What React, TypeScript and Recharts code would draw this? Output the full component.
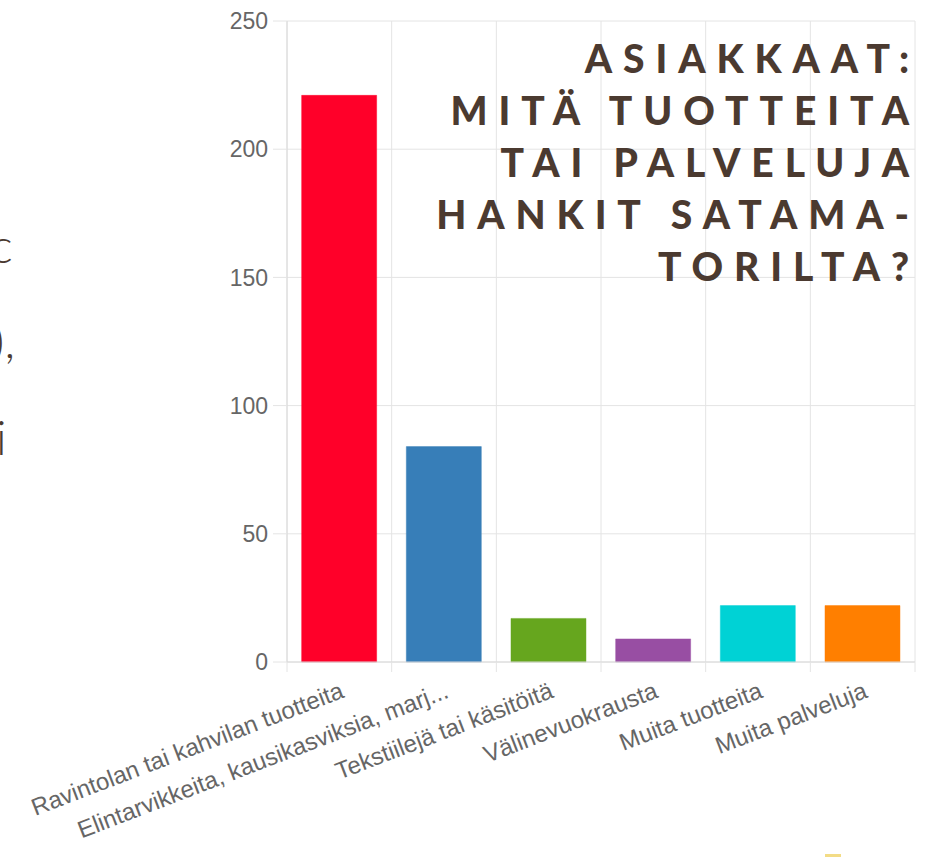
import { BarChart, Bar, XAxis, YAxis, CartesianGrid, Cell } from "recharts";

const CATEGORIES = [
  "Ravintolan tai kahvilan tuotteita",
  "Elintarvikkeita, kausikasviksia, marj...",
  "Tekstiilejä tai käsitöitä",
  "Välinevuokrausta",
  "Muita tuotteita",
  "Muita palveluja",
];
const VALUES = [221, 84, 17, 9, 22, 22];
const BAR_COLORS = ["#ff0029", "#377eb8", "#66a61e", "#984ea3", "#00d2d5", "#ff7f00"];
const Y_TICKS = [0, 50, 100, 150, 200, 250];
const TITLE_LINES = ["ASIAKKAAT:", "MITÄ TUOTTEITA", "TAI PALVELUJA", "HANKIT SATAMA-", "TORILTA?"];

const data = CATEGORIES.map((name, i) => ({ name, value: VALUES[i] }));

const GRID = "#e4e4e4";
const INK = "#4b3a30";

const XTick = (props: any) => {
  const { x, y, payload, width, visibleTicksCount, index } = props;
  const band = width / (visibleTicksCount || CATEGORIES.length);
  const left = x - band / 2;
  return (
    <g>
      <line x1={left} y1={y} x2={left} y2={y + 10} stroke={GRID} />
      {index === visibleTicksCount - 1 && (
        <line x1={left + band} y1={y} x2={left + band} y2={y + 10} stroke={GRID} />
      )}
      <text
        transform={`translate(${x + 6},${y + 35}) rotate(-21)`}
        textAnchor="end"
        fill="#666"
        fontSize={24}
        fontFamily="'Liberation Sans', Arial, sans-serif"
      >
        {payload.value}
      </text>
    </g>
  );
};

export default function App() {
  return (
    <div style={{ position: "absolute", left: 0, top: 0, width: 930, height: 857, background: "#fff", overflow: "hidden" }}>
      <BarChart
        width={930}
        height={857}
        data={data}
        margin={{ top: 21, right: 15, bottom: 0, left: 0 }}
        barCategoryGap="14%"
      >
        <CartesianGrid
          stroke={GRID}
          verticalCoordinatesGenerator={({ offset }: any) =>
            CATEGORIES.map((_, i) => offset.left + (i * offset.width) / CATEGORIES.length).concat(offset.left + offset.width)
          }
        />
        <XAxis
          dataKey="name"
          interval={0}
          height={195}
          tickSize={0}
          tickMargin={0}
          tickLine={false}
          axisLine={{ stroke: "#dadada" }}
          tick={<XTick />}
        />
        <YAxis
          width={287}
          domain={[0, 250]}
          ticks={Y_TICKS}
          interval={0}
          tickSize={14}
          tickMargin={5}
          tickLine={{ stroke: GRID }}
          axisLine={{ stroke: "#dadada" }}
          tick={{ fill: "#666", fontSize: 23, fontFamily: "'Liberation Sans', Arial, sans-serif" }}
        />
        <Bar dataKey="value" isAnimationActive={false}>
          {data.map((d, i) => (
            <Cell key={d.name} fill={BAR_COLORS[i]} stroke={BAR_COLORS[i]} strokeOpacity={0.45} strokeWidth={1} />
          ))}
        </Bar>
      </BarChart>
      <svg width={930} height={857} style={{ position: "absolute", left: 0, top: 0, pointerEvents: "none" }}>
        <g fill={INK} fontFamily="Lato, 'Open Sans', sans-serif" fontWeight={900} fontSize={39} textAnchor="end">
          {TITLE_LINES.map((line, i) => (
            <text key={line} x={920} y={73 + i * 52} style={{ letterSpacing: "0.28em" }}>
              {line}
            </text>
          ))}
        </g>
        <g fill={INK} fontFamily="Lato, 'Open Sans', sans-serif" fontWeight={300} fontSize={48}>
          <text x={-10} y={263}>c</text>
          <text x={-8} y={358}>),</text>
          <text x={-4} y={455}>i</text>
        </g>
      </svg>
      <div style={{ position: "absolute", left: 825, top: 854, width: 16, height: 3, background: "#f3dc86" }} />
    </div>
  );
}
